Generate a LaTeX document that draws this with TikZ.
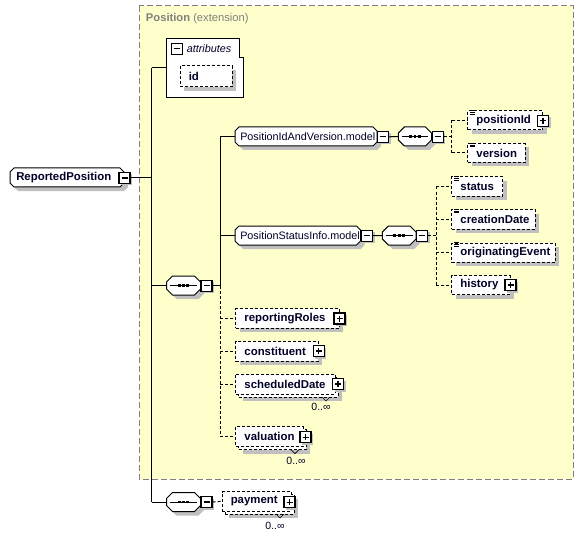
\documentclass[tikz,border=0pt]{standalone}
\usepackage{fontspec}
\setmainfont{Liberation Sans}
\usetikzlibrary{fit}
\definecolor{panelbg}{RGB}{255,255,204}
\definecolor{panelline}{RGB}{128,128,128}
\definecolor{shadowgray}{RGB}{192,192,192}
\definecolor{txt}{RGB}{0,0,40}
\tikzset{
  conn/.style={line width=0.75pt, draw=black},
  dconn/.style={conn, dash pattern=on 2.25pt off 1.5pt},
  shd/.style={fill=shadowgray},
  elbx/.style={draw=black, line width=0.75pt, dash pattern=on 2.25pt off 1.5pt, fill=white, inner sep=0pt},
  solidbx/.style={draw=black, line width=0.75pt, fill=white},
  hid/.style={draw=none, inner sep=0pt},
  tg/.style={draw=black, line width=0.9pt, fill=white, inner sep=0pt},
  bl/.style={font=\fontsize{8.55}{10}\selectfont\bfseries, text=txt, inner sep=0pt, anchor=west},
  rl/.style={font=\fontsize{8.1}{10}\selectfont, text=txt, inner sep=0pt, anchor=west},
  occ/.style={font=\fontsize{7.9}{9}\selectfont, text=txt, inner sep=0pt},
  icn/.style={line width=0.55pt, draw=black},
  paneltitle/.style={font=\fontsize{8.4}{10}\selectfont, text=panelline, inner sep=0pt, anchor=west},
}
% element box (dashed, optional)
\newcommand\elem[6]{%
  \fill[shd] ({#2+4},{#3+4}) rectangle ({#4+4},{#5+4});
  \node[elbx, fit={(#2,#3) (#4,#5)}] (#1) {};
  \node[bl] (#1-l) at ({#2+8.5},{(#3+#5)/2}) {#6};
}
% element with several occurrences
\newcommand\melem[6]{%
  \fill[shd] ({#2+7},{#3+7}) rectangle ({#4+7},{#5+7});
  \node[elbx, fit={({#2+3},{#3+3}) ({#4+3},{#5+3})}] (#1-b) {};
  \node[elbx, fit={(#2,#3) (#4,#5)}] (#1) {};
  \node[bl] (#1-l) at ({#2+8.5},{(#3+#5)/2}) {#6};
}
% simple content icon
\newcommand\icon[2]{%
  \draw[icn] ({#1+2.5},{#2-0.3}) -- ({#1+7.5},{#2-0.3})
             ({#1+2.5},{#2+1.5}) -- ({#1+7.5},{#2+1.5})
             ({#1+2.5},{#2+3.3}) -- ({#1+7.5},{#2+3.3});
}
% toggles
\newcommand\togbase[3]{%
  \node[tg, fit={(#2,#3) ({#2+11},{#3+11})}] (#1) {};
  \draw[line width=0.9pt] ({#2+2.5},{#3+5.5}) -- ({#2+8.5},{#3+5.5});
}
\newcommand\togm[3]{%
  \fill[shd] ({#2+2},{#3+2}) rectangle ({#2+13},{#3+13});
  \togbase{#1}{#2}{#3}
}
\newcommand\togp[3]{%
  \togm{#1}{#2}{#3}
  \draw[line width=0.9pt] ({#2+5.5},{#3+2.5}) -- ({#2+5.5},{#3+8.5});
}
% chamfered box
\newcommand\octo[6]{%
  \fill[shd] ({#2+#6+4},{#3+4}) -- ({#4-#6+4},{#3+4}) -- ({#4+4},{#3+#6+4}) -- ({#4+4},{#5-#6+4})
     -- ({#4-#6+4},{#5+4}) -- ({#2+#6+4},{#5+4}) -- ({#2+4},{#5-#6+4}) -- ({#2+4},{#3+#6+4}) -- cycle;
  \draw[solidbx] ({#2+#6},{#3}) -- ({#4-#6},{#3}) -- ({#4},{#3+#6}) -- ({#4},{#5-#6})
     -- ({#4-#6},{#5}) -- ({#2+#6},{#5}) -- ({#2},{#5-#6}) -- ({#2},{#3+#6}) -- cycle;
  \node[hid, fit={(#2,#3) (#4,#5)}] (#1) {};
}
% sequence compositor
\newcommand\seqc[5]{%
  \octo{#1}{#2}{#3}{#4}{#5}{6}
  \draw[line width=0.75pt] ([xshift=2.6pt]#1.west) -- ([xshift=-2.6pt]#1.east);
  \fill[black] ([xshift=-4.3pt,yshift=-1pt]#1.center) rectangle ++(2.1pt,2pt);
  \fill[black] ([xshift=-1.05pt,yshift=-1pt]#1.center) rectangle ++(2.1pt,2pt);
  \fill[black] ([xshift=2.2pt,yshift=-1pt]#1.center) rectangle ++(2.1pt,2pt);
}
% little occurrence mark
\newcommand\vmark[2]{%
  \draw[line width=0.5pt] ({#1-4},{#2}) -- ({#1},{#2+4}) -- ({#1+4},{#2});
}
\begin{document}
\begin{tikzpicture}[x=0.75pt,y=-0.75pt]
\useasboundingbox (0,0) rectangle (584,538);
\fill[white] (0,0) rectangle (584,538);

% extension panel
\draw[fill=panelbg, draw=panelline, line width=0.75pt, dash pattern=on 4.5pt off 2.25pt] (139,6) rectangle (573,479);
\node[paneltitle] (title) at (145.7,19) {\textbf{Position} (extension)};

% root
\octo{rp}{10}{168}{124}{187}{4}
\node[bl] (rp-l) at (16,177.5) {ReportedPosition};
\togm{rpT}{119}{172.5}

% attributes
\draw[solidbx] (166.7,38.3) -- (239.3,38.3) -- (239.3,57.3) -- (243.3,57.3) -- (243.3,97.3) -- (166.7,97.3) -- cycle;
\node[hid, fit={(166.7,38.3) (243.3,97.3)}] (attr) {};
\togbase{attrT}{171.5}{43.3}
\node[rl, font=\fontsize{8.1}{10}\selectfont\itshape] (attr-l) at (186.5,48.5) {attributes};
\elem{id}{180}{66}{232}{87}{id}

% first sequence
\seqc{seq1}{166.5}{276}{200.5}{295}
\togm{seq1T}{201}{280.3}

% PositionIdAndVersion.model
\octo{piv}{235}{127}{377}{146}{4}
\node[rl] (piv-l) at (240,136.5) {PositionIdAndVersion.model};
\togm{pivT}{377.5}{131.3}
\seqc{seq2}{398.3}{127}{431.5}{146}
\togm{seq2T}{432.3}{131.3}
\elem{pid}{467.7}{111}{542.7}{130}{positionId}
\icon{467.7}{111}
\togp{pidT}{537.5}{115.3}
\elem{ver}{467.7}{143.5}{525}{162.5}{version}
\icon{467.7}{143.5}

% PositionStatusInfo.model
\octo{psi}{235}{226}{360.5}{245}{4}
\node[rl] (psi-l) at (240,235.5) {PositionStatusInfo.model};
\togm{psiT}{361.5}{230.2}
\seqc{seq3}{382.3}{226}{416}{245}
\togm{seq3T}{416.7}{230.2}
\elem{st}{451.7}{177}{502.7}{196}{status}
\icon{451.7}{177}
\elem{cd}{451.7}{209.5}{535}{229}{creationDate}
\icon{451.7}{209.5}
\elem{oe}{451.7}{243}{555}{262.3}{originatingEvent}
\icon{451.7}{243}
\elem{hi}{451.7}{275.5}{510}{294.5}{history}
\togp{hiT}{505}{279.5}

% other members of the first sequence
\elem{rr}{235.7}{308.5}{339.3}{328.3}{reportingRoles}
\togp{rrT}{334}{313}
\elem{co}{235.7}{341}{318.3}{361}{constituent}
\togp{coT}{313.3}{345.5}
\melem{sd}{235.7}{374}{335}{394}{scheduledDate}
\togp{sdT}{332.5}{378.5}
\vmark{326}{397}
\node[occ] (sd-o) at (321,407) {0..∞};
\melem{va}{235.7}{426.7}{303}{446.7}{valuation}
\togp{vaT}{300}{431.7}
\vmark{295}{449.7}
\node[occ] (va-o) at (296,461) {0..∞};

% second sequence and payment
\seqc{seq4}{166.5}{492.5}{200.5}{511.5}
\togm{seq4T}{201}{496.5}
\melem{pay}{222}{491.5}{291}{511}{payment}
\togp{payT}{284}{496.7}
\vmark{280}{514}
\node[occ] (pay-o) at (275,525.5) {0..∞};

% buses
\coordinate (b1x) at (151.7,0);
\coordinate (b2x) at (220.3,0);
\coordinate (b3x) at (451.7,0);
\coordinate (b4x) at (436,0);
\coordinate (b1a) at (attr.west -| b1x);
\coordinate (b1b) at (seq4.west -| b1x);

% root connectors
\draw[conn] (rpT.east) -- (rpT.east -| b1x);
\draw[conn] (b1a) -- (b1b);
\draw[conn] (b1a) -- (attr.west);
\draw[conn] (seq1.west -| b1x) -- (seq1.west);
\draw[conn] (b1b) -- (seq4.west);

% first sequence connectors
\draw[conn] (seq1T.east) -- (seq1T.east -| b2x);
\draw[conn] (piv.west -| b2x) -- (seq1T.east -| b2x);
\draw[dconn] (seq1T.east -| b2x) -- (va.west -| b2x);
\draw[conn] (piv.west -| b2x) -- (piv.west);
\draw[conn] (psi.west -| b2x) -- (psi.west);
\draw[dconn] (rr.west -| b2x) -- (rr.west);
\draw[dconn] (co.west -| b2x) -- (co.west);
\draw[dconn] (sd.west -| b2x) -- (sd.west);
\draw[dconn] (va.west -| b2x) -- (va.west);

% PositionIdAndVersion connectors
\draw[conn] (pivT.east) -- (seq2.west);
\draw[dconn] (seq2T.east) -- (seq2T.east -| b3x);
\draw[dconn] (pid.west -| b3x) -- (ver.west -| b3x);
\draw[dconn] (pid.west -| b3x) -- (pid.west);
\draw[dconn] (ver.west -| b3x) -- (ver.west);

% PositionStatusInfo connectors
\draw[conn] (psiT.east) -- (seq3.west);
\draw[dconn] (seq3T.east) -- (seq3T.east -| b4x);
\draw[dconn] (st.west -| b4x) -- (hi.west -| b4x);
\draw[dconn] (st.west -| b4x) -- (st.west);
\draw[dconn] (cd.west -| b4x) -- (cd.west);
\draw[dconn] (oe.west -| b4x) -- (oe.west);
\draw[dconn] (hi.west -| b4x) -- (hi.west);

% payment connector
\draw[dconn] (seq4T.east) -- (pay.west);
\end{tikzpicture}
\end{document}
